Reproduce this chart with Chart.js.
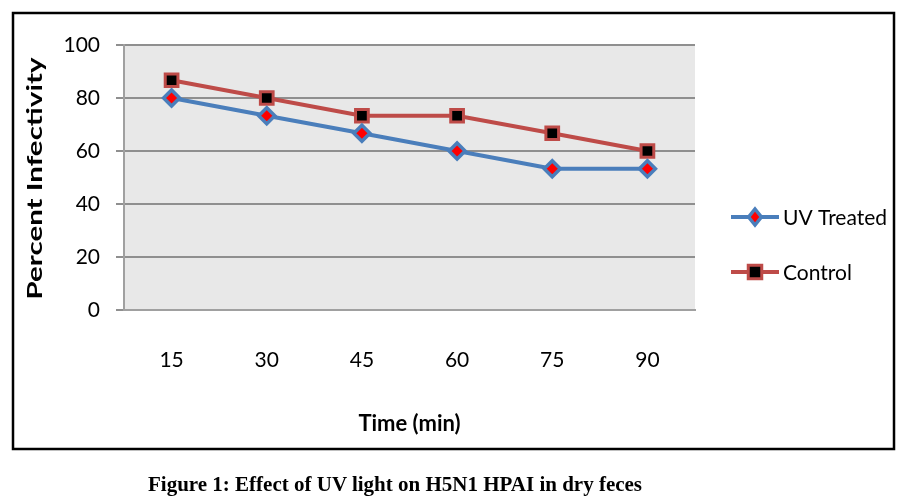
<!DOCTYPE html>
<html>
<head>
<meta charset="utf-8">
<script src="https://cdn.jsdelivr.net/npm/chart.js@4.4.1/dist/chart.umd.min.js"></script>
<style>
  html, body { margin: 0; padding: 0; background: #fff; }
  #wrap { position: absolute; left: 0; top: 0; width: 918px; height: 504px; }
  #caption {
    position: absolute; left: 148px; top: 471px;
    font-family: "Liberation Serif", "DejaVu Serif", serif;
    font-weight: bold; font-size: 21px; line-height: 26px; color: #000;
    white-space: nowrap;
  }
</style>
</head>
<body>
<div id="wrap"><canvas id="chart" width="918" height="504"></canvas></div>
<div id="caption">Figure 1: Effect of UV light on H5N1 HPAI in dry feces</div>
<script>
// data
const times = ['15', '30', '45', '60', '75', '90'];
const uvTreated = [80, 73.3, 66.7, 60, 53.3, 53.3];
const control = [86.7, 80, 73.3, 73.3, 66.7, 60];
const yTicks = [0, 20, 40, 60, 80, 100];
const yTitle = 'Percent Infectivity';

const FONT = 'Lato';

// grey plot background + outer frame
const backdrop = {
    id: 'backdrop',
    beforeDraw(chart) {
        const { ctx, chartArea: a } = chart;
        ctx.save();
        ctx.fillStyle = '#e8e8e8';
        ctx.fillRect(a.left, a.top, a.right - a.left, a.bottom - a.top);
        ctx.restore();
    },
    afterDraw(chart) {
        const ctx = chart.ctx;
        ctx.save();
        ctx.strokeStyle = '#000';
        ctx.lineWidth = 2.5;
        ctx.strokeRect(13, 13, 881, 436);
        ctx.restore();
    }
};

// the y title in the original is stretched along its length
const stretchedTitle = {
    id: 'stretchedTitle',
    afterDraw(chart) {
        const ctx = chart.ctx;
        const a = chart.chartArea;
        ctx.save();
        ctx.font = 'bold 21px ' + FONT;
        const w = ctx.measureText(yTitle).width;
        ctx.translate(35, (a.top + a.bottom) / 2 + 1);
        ctx.rotate(-Math.PI / 2);
        ctx.scale(242 / w, 1);
        ctx.fillStyle = '#000';
        ctx.textAlign = 'center';
        ctx.textBaseline = 'middle';
        ctx.fillText(yTitle, 0, 0);
        ctx.restore();
    }
};

// legend with line + marker, like the office chart
const sideLegend = {
    id: 'sideLegend',
    afterDraw(chart) {
        const ctx = chart.ctx;
        const rows = [217, 272];
        chart.data.datasets.forEach((ds, i) => {
            const y = rows[i];
            ctx.save();
            ctx.strokeStyle = ds.borderColor;
            ctx.lineWidth = 4;
            ctx.beginPath();
            ctx.moveTo(731, y);
            ctx.lineTo(779, y);
            ctx.stroke();
            ctx.fillStyle = ds.pointBackgroundColor;
            ctx.strokeStyle = ds.pointBorderColor;
            ctx.lineWidth = ds.pointBorderWidth;
            ctx.beginPath();
            if (ds.pointStyle === 'rectRot') {
                const r = ds.pointRadius;
                ctx.moveTo(755, y - r); ctx.lineTo(755 + r * 0.8, y);
                ctx.lineTo(755, y + r); ctx.lineTo(755 - r * 0.8, y);
                ctx.closePath();
            } else {
                const r = ds.pointRadius * 0.75;
                ctx.rect(755 - r, y - r, 2 * r, 2 * r);
            }
            ctx.fill();
            ctx.stroke();
            ctx.fillStyle = '#000';
            ctx.font = '21px ' + FONT;
            ctx.textBaseline = 'middle';
            ctx.fillText(ds.label, 783, y + 1);
            ctx.restore();
        });
    }
};

new Chart(document.getElementById('chart'), {
    type: 'line',
    data: {
        labels: times,
        datasets: [{
            label: 'UV Treated',
            data: uvTreated,
            borderColor: '#4a7ebb',
            borderWidth: 4,
            pointStyle: 'rectRot',
            pointRadius: 8,
            pointBackgroundColor: '#ff0000',
            pointBorderColor: '#4a7ebb',
            pointBorderWidth: 3.5,
            tension: 0
        }, {
            label: 'Control',
            data: control,
            borderColor: '#be4b48',
            borderWidth: 4,
            pointStyle: 'rect',
            pointRadius: 9,
            pointBackgroundColor: '#000000',
            pointBorderColor: '#be4b48',
            pointBorderWidth: 3,
            tension: 0
        }]
    },
    options: {
        responsive: false,
        animation: false,
        devicePixelRatio: 1,
        layout: { padding: { left: 0, top: 45, right: 223, bottom: 54 } },
        plugins: {
            legend: { display: false },
            tooltip: { enabled: false }
        },
        scales: {
            x: {
                offset: true,
                afterFit: s => { s.height = 140; },
                grid: { display: true, drawOnChartArea: false, drawTicks: false, color: '#a0a0a0', lineWidth: 2 },
                border: { color: '#a0a0a0', width: 2 },
                ticks: { color: '#000', padding: 38, font: { family: FONT, size: 21 } },
                title: {
                    display: true, text: 'Time (min)', color: '#000',
                    padding: { top: 0, bottom: 13 },
                    font: { family: FONT, size: 22, weight: 'bold' }
                }
            },
            y: {
                min: 0,
                max: 100,
                afterFit: s => { s.width = 124; },
                afterBuildTicks: s => { s.ticks = yTicks.map(v => ({ value: v })); },
                grid: { color: '#8f8f8f', lineWidth: 2, tickLength: 8 },
                border: { color: '#a0a0a0', width: 2 },
                ticks: { color: '#000', padding: 16, font: { family: FONT, size: 21 } },
                title: { display: false }
            }
        }
    },
    plugins: [backdrop, stretchedTitle, sideLegend]
});
</script>
</body>
</html>
